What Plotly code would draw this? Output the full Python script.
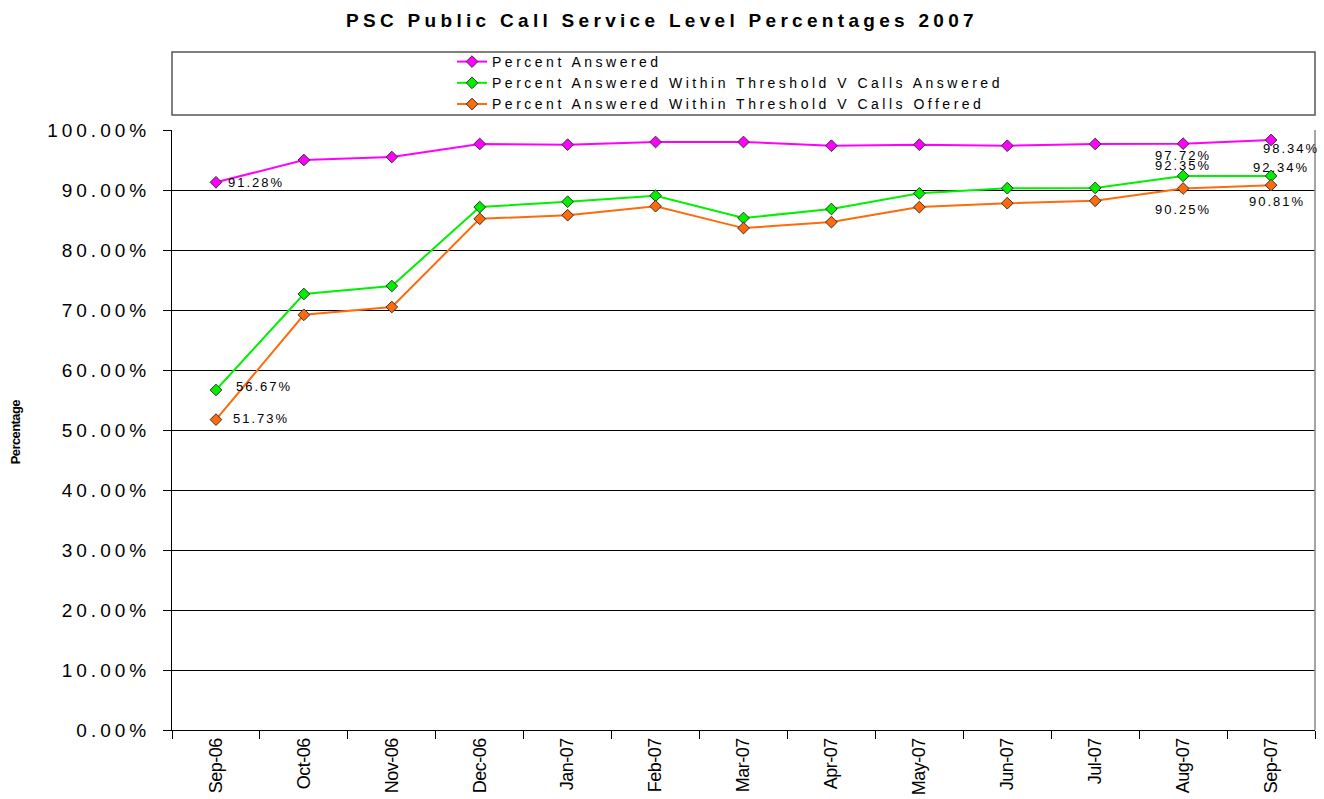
import plotly.graph_objects as go

months = ["Sep-06", "Oct-06", "Nov-06", "Dec-06", "Jan-07", "Feb-07", "Mar-07",
          "Apr-07", "May-07", "Jun-07", "Jul-07", "Aug-07", "Sep-07"]
pct_answered = [91.28, 95.0, 95.5, 97.67, 97.55, 98.0, 98.0, 97.38, 97.55, 97.38, 97.67, 97.72, 98.34]
pct_within_answered = [56.67, 72.67, 74.0, 87.15, 88.05, 89.05, 85.33, 86.83, 89.44, 90.3, 90.35, 92.35, 92.34]
pct_within_offered = [51.73, 69.2, 70.5, 85.2, 85.8, 87.3, 83.65, 84.65, 87.15, 87.8, 88.2, 90.25, 90.81]
y_ticks = [0, 10, 20, 30, 40, 50, 60, 70, 80, 90, 100]
y_ticklabels = ["0.00%", "10.00%", "20.00%", "30.00%", "40.00%", "50.00%", "60.00%",
                "70.00%", "80.00%", "90.00%", "100.00%"]

FONT = "Arial, Liberation Sans, sans-serif"


def sp(text, ls):
    return f'<span style="letter-spacing:{ls}px">{text}</span>'


series = [
    ("Percent Answered", pct_answered, "#FF00FF"),
    ("Percent Answered Within Threshold V Calls Answered", pct_within_answered, "#00F000"),
    ("Percent Answered Within Threshold V Calls Offered", pct_within_offered, "#FF6A0A"),
]

fig = go.Figure()
for name, vals, col in series:
    fig.add_trace(go.Scatter(
        x=months, y=vals, name=sp(name, 3.5), mode="lines+markers",
        line=dict(color=col, width=2),
        marker=dict(symbol="diamond", size=9, color=col, line=dict(color="#333333", width=1)),
    ))

# data labels: (series index, point index, xanchor, xshift, yshift)
label_specs = [
    (0, 0, "left", 10, 0), (1, 0, "left", 18, 3), (2, 0, "left", 15, 1),
    (0, 11, "center", 0, -12), (1, 11, "center", 0, 10), (2, 11, "center", 0, -21),
    (0, 12, "center", 20, -9), (1, 12, "center", 10, 8), (2, 12, "center", 6, -16),
]
annotations = []
for si, pi, xa, xs, ys in label_specs:
    vals = series[si][1]
    annotations.append(dict(
        x=months[pi], y=vals[pi], xref="x", yref="y", text=sp(f"{vals[pi]:.2f}%", 2.0),
        showarrow=False, xanchor=xa, yanchor="middle", xshift=xs, yshift=ys,
        font=dict(family=FONT, size=13, color="#000000"),
    ))

annotations.append(dict(
    x=-0.137, y=0.497, xref="paper", yref="paper",
    text="<b>" + sp("Percentage", -0.6) + "</b>",
    textangle=-90, showarrow=False, xanchor="center", yanchor="middle",
    font=dict(family=FONT, size=13, color="#000000"),
))

fig.update_layout(
    width=1324, height=799, autosize=False,
    margin=dict(l=172, r=9, t=130, b=69, pad=0, autoexpand=False),
    paper_bgcolor="white", plot_bgcolor="white",
    title=dict(text="<b>" + sp("PSC Public Call Service Level Percentages 2007", 4.3) + "</b>",
               x=0.5, xanchor="center", y=1 - 20 / 799, yanchor="middle",
               font=dict(family=FONT, size=19, color="#000000")),
    font=dict(family=FONT, color="#000000"),
    showlegend=True,
    legend=dict(x=0.245, xanchor="left", y=1.14, yanchor="top", bgcolor="rgba(0,0,0,0)",
                font=dict(family=FONT, size=14, color="#000000"), borderwidth=0,
                tracegroupgap=0),
    annotations=annotations,
    shapes=[
        dict(type="rect", xref="paper", yref="paper", x0=0, x1=1,
             y0=(730 - 115) / 600, y1=(730 - 52) / 600,
             line=dict(color="#555555", width=1.5), fillcolor="rgba(0,0,0,0)"),
        dict(type="line", xref="paper", yref="paper", x0=1, x1=1, y0=0, y1=1,
             line=dict(color="#888888", width=1.5)),
    ],
)

fig.update_xaxes(
    type="category", range=[-0.5, 12.5], tickson="boundaries", ticks="outside",
    ticklen=8, tickcolor="#000000", tickwidth=1, showgrid=False, automargin=False,
    showline=True, linecolor="#000000", linewidth=1, tickangle=-90,
    tickvals=months, ticktext=[sp(m, -0.5) for m in months],
    tickfont=dict(family=FONT, size=18, color="#000000"), zeroline=False,
)
fig.update_yaxes(
    range=[0, 100], tickvals=y_ticks, ticktext=[sp(t, 4.0) for t in y_ticklabels],
    ticks="outside", ticklen=8, tickcolor="#000000", tickwidth=1, automargin=False,
    showgrid=True, gridcolor="#000000", gridwidth=1,
    showline=True, linecolor="#000000", linewidth=1, zeroline=False,
    tickfont=dict(family=FONT, size=19, color="#000000"), ticklabelstandoff=9,
)

fig.write_html("out.html")
